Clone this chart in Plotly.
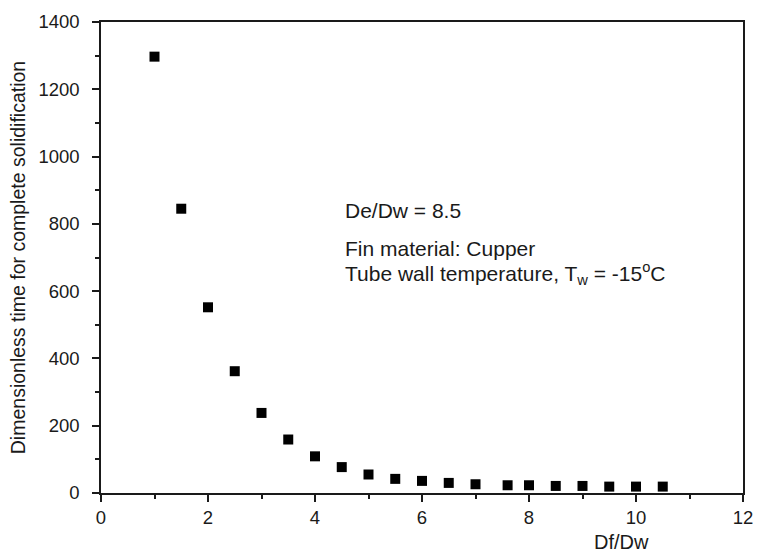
import plotly.graph_objects as go

df_dw = [1.0, 1.5, 2.0, 2.5, 3.0, 3.5, 4.0, 4.5, 5.0, 5.5, 6.0, 6.5, 7.0, 7.6, 8.0, 8.5, 9.0, 9.5, 10.0, 10.5]
time_vals = [1297, 845, 552, 362, 238, 159, 109, 77, 55, 42, 36, 30, 26, 23, 23, 21, 21, 19, 19, 19]

x_ticks = [0, 2, 4, 6, 8, 10, 12]
y_ticks = [0, 200, 400, 600, 800, 1000, 1200, 1400]

FONT = "Liberation Sans, Arial, sans-serif"
INK = "#1a1a1a"

fig = go.Figure()
fig.add_trace(go.Scatter(
    x=df_dw, y=time_vals, mode="markers",
    marker=dict(symbol="square", size=10, color="black"),
    showlegend=False,
))

axis_common = dict(
    showgrid=False, zeroline=False, showline=True, linecolor=INK, linewidth=1.5,
    mirror=True, ticks="outside", ticklen=7, tickwidth=1.5, tickcolor=INK,
    tickfont=dict(family=FONT, size=18.5, color=INK),
)

fig.update_xaxes(range=[0, 12], tickvals=x_ticks,
                 minor=dict(dtick=1, ticks="outside", ticklen=4, tickwidth=1.5, tickcolor=INK),
                 **axis_common)
fig.update_yaxes(range=[0, 1400], tickvals=y_ticks, ticklabelstandoff=9,
                 minor=dict(dtick=100, ticks="outside", ticklen=4, tickwidth=1.5, tickcolor=INK),
                 title=dict(text="Dimensionless time for complete solidification",
                            font=dict(family=FONT, size=19.5, color=INK), standoff=8),
                 **axis_common)

fig.add_annotation(x=9.72, y=-0.104, xref="x", yref="paper", text="Df/Dw", showarrow=False,
                   xanchor="center", yanchor="middle",
                   font=dict(family=FONT, size=20, color=INK))

ann_font = dict(family=FONT, size=21, color=INK)
fig.add_annotation(x=4.53, y=840, xref="x", yref="y", text="De/Dw = 8.5", showarrow=False,
                   xanchor="left", yanchor="middle", font=ann_font)
fig.add_annotation(x=4.53, y=728, xref="x", yref="y", text="Fin material: Cupper", showarrow=False,
                   xanchor="left", yanchor="middle", font=ann_font)
fig.add_annotation(x=4.53, y=652, xref="x", yref="y",
                   text="Tube wall temperature, T<sub>w</sub> = -15<sup>o</sup>C", showarrow=False,
                   xanchor="left", yanchor="middle", font=ann_font)

fig.update_layout(
    width=764, height=556,
    margin=dict(l=101, r=11, t=21, b=63),
    plot_bgcolor="white", paper_bgcolor="white",
    font=dict(family=FONT, color=INK),
)

fig.write_html("out.html")
